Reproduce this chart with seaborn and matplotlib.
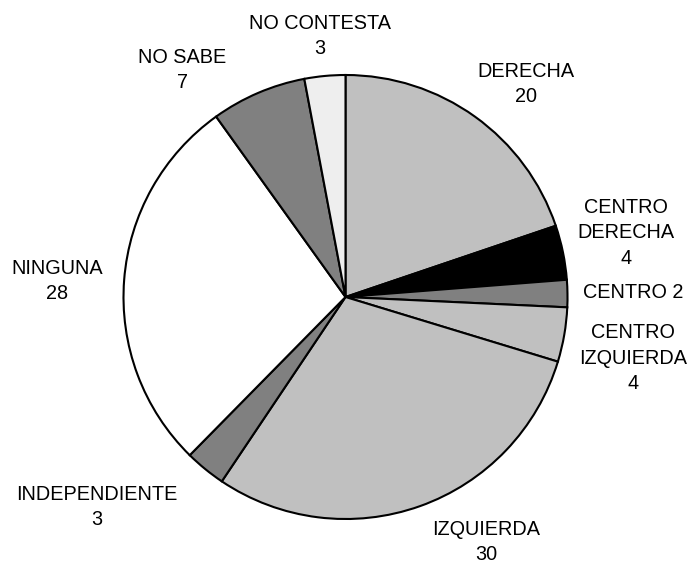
import matplotlib
matplotlib.use("Agg")
import matplotlib.pyplot as plt
import seaborn as sns

categories = ["DERECHA", "CENTRO DERECHA", "CENTRO", "CENTRO IZQUIERDA",
              "IZQUIERDA", "INDEPENDIENTE", "NINGUNA", "NO SABE", "NO CONTESTA"]
values = [20, 4, 2, 4, 30, 3, 28, 7, 3]
label_texts = ["DERECHA\n20", "CENTRO\nDERECHA\n4", "CENTRO 2", "CENTRO\nIZQUIERDA\n4",
               "IZQUIERDA\n30", "INDEPENDIENTE\n3", "NINGUNA\n28", "NO SABE\n7",
               "NO CONTESTA\n3"]
colors = ["#c0c0c0", "#000000", "#808080", "#c0c0c0", "#c0c0c0",
          "#808080", "#ffffff", "#808080", "#eeeeee"]
# label block centres in pixel coordinates (x, y from top)
label_pos = [(526, 84), (626, 233), (633, 292), (633, 358), (486, 542),
             (97, 507), (57, 281), (182, 70), (320, 36)]

sns.set_theme(style="white")
plt.rcParams['font.family'] = ['Liberation Sans', 'DejaVu Sans']

W, H = 693, 564
fig = plt.figure(figsize=(W / 100, H / 100), dpi=100)
ax = fig.add_axes([0, 0, 1, 1])

ax.pie(values, colors=colors, startangle=90, counterclock=False,
       center=(345.5, H - 297), radius=222, frame=True,
       wedgeprops=dict(edgecolor='black', linewidth=1.5))
ax.set_xlim(0, W)
ax.set_ylim(0, H)
ax.set_aspect('equal')
ax.axis('off')

for txt, (x, y) in zip(label_texts, label_pos):
    ax.text(x, H - y, txt, ha='center', va='center', fontsize=14.3,
            linespacing=1.45, color='black')

fig.savefig("out.png", dpi=100, facecolor='white')
